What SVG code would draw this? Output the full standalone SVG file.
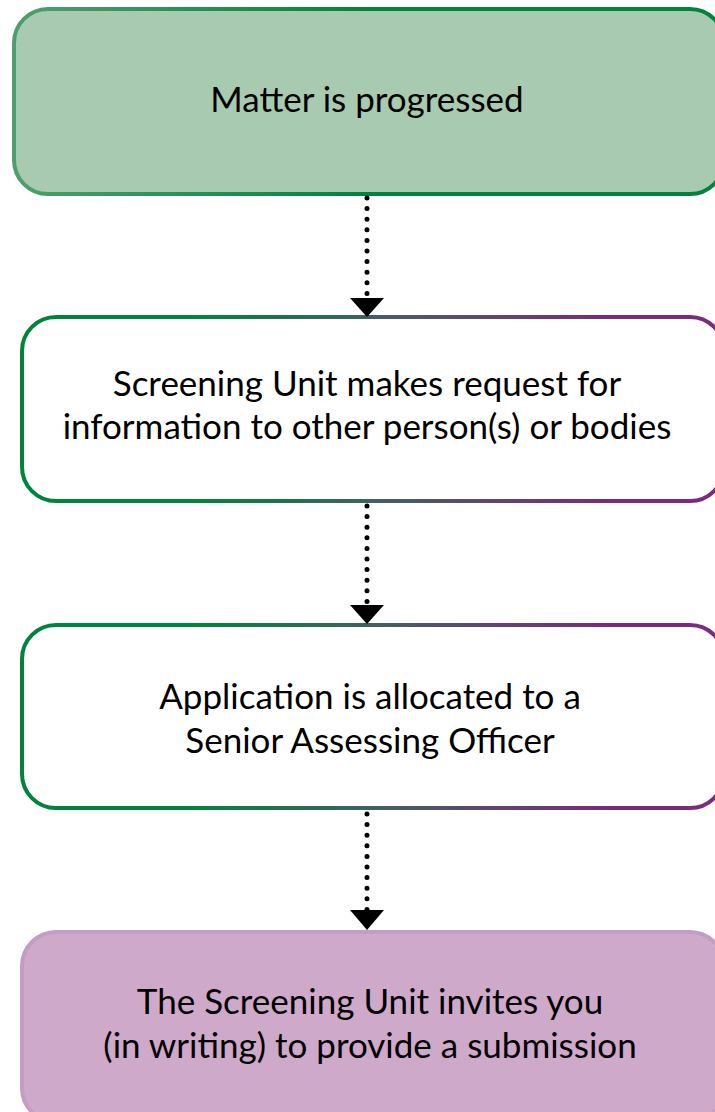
<svg xmlns="http://www.w3.org/2000/svg" width="715" height="1112" viewBox="0 0 715 1112">
<defs>
<linearGradient id="g1" gradientUnits="userSpaceOnUse" x1="12" y1="0" x2="715" y2="0">
<stop offset="0" stop-color="#4F9F6D"/><stop offset="0.5" stop-color="#00843D"/><stop offset="1" stop-color="#00843D"/>
</linearGradient>
<linearGradient id="g2" gradientUnits="userSpaceOnUse" x1="20" y1="0" x2="715" y2="0">
<stop offset="0" stop-color="#00843D"/><stop offset="0.25" stop-color="#00843D"/><stop offset="0.55" stop-color="#4A5B66"/><stop offset="0.85" stop-color="#7B2A7D"/><stop offset="1" stop-color="#7B2A7D"/>
</linearGradient>
<style>
.t{font-family:Lato,"Open Sans",sans-serif;font-size:35px;fill:#000;text-anchor:middle}
.c{stroke:#000;stroke-width:5;stroke-linecap:round;stroke-dasharray:0 10.6;fill:none}
</style>
</defs>
<g id="n1">
<rect x="14" y="9" width="710" height="185" rx="34" fill="#A8CAB0" stroke="url(#g1)" stroke-width="4"/>
<text class="t" x="367" y="112">Matter is progressed</text>
</g>
<g id="n2">
<rect x="22" y="317" width="702" height="184" rx="34" fill="#FFFFFF" stroke="url(#g2)" stroke-width="4"/>
<text class="t" x="367" y="396">Screening Unit makes request for</text>
<text class="t" x="367" y="439">information to other person(s) or bodies</text>
</g>
<g id="n3">
<rect x="22" y="625" width="702" height="183" rx="34" fill="#FFFFFF" stroke="url(#g2)" stroke-width="4"/>
<text class="t" x="370" y="709">Application is allocated to a</text>
<text class="t" x="370" y="753">Senior Assessing Officer</text>
</g>
<g id="n4">
<rect x="22" y="932" width="702" height="190" rx="34" fill="#CEA9C9" stroke="#C59CC2" stroke-width="4"/>
<text class="t" x="370" y="1014">The Screening Unit invites you</text>
<text class="t" x="370" y="1058">(in writing) to provide a submission</text>
</g>
<g id="connectors">
<line class="c" x1="367" y1="198" x2="367" y2="298"/>
<path d="M350,298 L384,298 L367,317 Z"/>
<line class="c" x1="367" y1="506" x2="367" y2="605"/>
<path d="M350,605 L384,605 L367,624 Z"/>
<line class="c" x1="367" y1="814" x2="367" y2="910"/>
<path d="M350,910 L384,910 L367,930 Z"/>
</g>
</svg>
